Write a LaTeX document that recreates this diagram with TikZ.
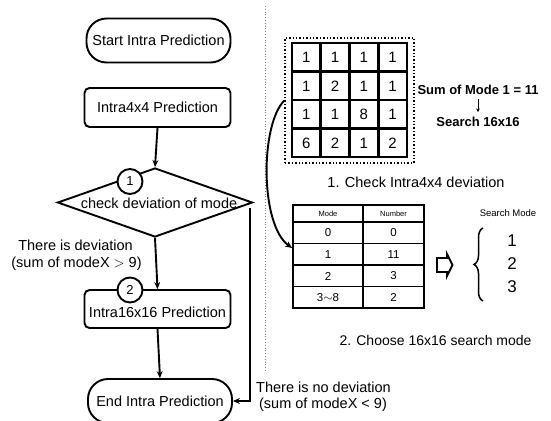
\documentclass[tikz,border=0pt]{standalone}
\usepackage{fontspec}
\setmainfont{Liberation Sans}
\usetikzlibrary{shapes.geometric,arrows.meta,decorations.pathreplacing,calc}
\begin{document}
\begin{tikzpicture}[x=1pt,y=-1pt,
  txt/.style={inner sep=0pt,font=\fontsize{14.5}{16}\selectfont},
  box/.style={draw,line width=1.9pt,rounded corners=5pt,minimum width=146pt,minimum height=39pt,inner sep=0pt,font=\fontsize{14.5}{16}\selectfont},
  term/.style={draw,line width=1.9pt,rounded corners=20pt,minimum width=144pt,minimum height=44pt,inner sep=0pt,font=\fontsize{14.5}{16}\selectfont},
  decision/.style={draw,diamond,line width=1.9pt,minimum width=195pt,minimum height=69pt,inner sep=0pt},
  num/.style={draw,circle,fill=white,line width=1.9pt,minimum size=25pt,inner sep=0pt,font=\fontsize{13}{14}\selectfont},
  arr/.style={line width=1.9pt,-{Stealth[length=7pt,width=6pt]}},
  cellnum/.style={inner sep=0pt,font=\fontsize{15}{16}\selectfont},
  gridline/.style={line width=2.6pt},
  tabline/.style={line width=1.2pt},
  tabtxt/.style={inner sep=0pt,font=\fontsize{11.5}{13}\selectfont},
  tabhead/.style={inner sep=0pt,font=\fontsize{7.5}{9}\selectfont},
  boldtxt/.style={inner sep=0pt,font=\fontsize{13}{15}\selectfont\bfseries},
]
\useasboundingbox (0,0) rectangle (551,420);

% separator
\draw[dotted,line width=0.8pt,gray] (265,6) -- (265,372);

% left flowchart
\node[term] (start) at (158.5,40.5) {Start Intra Prediction};
\node[box] (i4) at (157.5,107.5) {Intra4x4 Prediction};
\node[decision] (dec) at (155,202.5) {};
\node[txt] (dect) at (159,203) {check deviation of mode};
\node[num] (c1) at (130,181.5) {1};
\node[box,minimum height=38pt] (i16) at (157.5,309) {};
\node[txt] (i16t) at (157.5,312) {Intra16x16 Prediction};
\node[num] (c2) at (130,290) {2};
\node[term] (end) at (160,401) {End Intra Prediction};

\draw[arr] (i4.south) -- (dec.north);
\draw[arr] (dec.south) -- (i16.north);
\draw[arr] (i16.south) -- (end.north);
\coordinate (nd) at (250,208);
\draw[arr] (nd) |- (end.east);

\node[txt] (dev1) at (75.5,245) {There is deviation};
\node[txt] (dev2) at (76.5,263.5) {(sum of modeX $>$ 9)};
\node[txt] (nodev1) at (323.5,387) {There is no deviation};
\node[txt] (nodev2) at (323,405) {(sum of modeX < 9)};

% 4x4 grid
\node[draw,dotted,line width=1.4pt,minimum width=129pt,minimum height=125pt,inner sep=0pt] (frame) at (349.5,100.5) {};
\draw[gridline] (292,43) rectangle (407,157);
\foreach \i in {1,2,3} {
  \draw[gridline] ({292+28.75*\i},43) -- ({292+28.75*\i},157);
  \draw[gridline] (292,{43+28.5*\i}) -- (407,{43+28.5*\i});
}
\foreach \r/\row in {1/{1,1,1,1},2/{1,2,1,1},3/{1,1,8,1},4/{6,2,1,2}} {
  \foreach \v [count=\c] in \row {
    \node[cellnum] (g\r\c) at ({292+28.75*(\c-0.5)},{43+28.5*(\r-0.5)+0.5}) {\v};
  }
}
\node[boldtxt] (sum) at (478,90) {Sum of Mode 1 = 11};
\node[boldtxt] (s16) at (478,122) {Search 16x16};
\draw[line width=0.9pt,-{Stealth[length=3.5pt,width=3.5pt]}] ($(sum.south)+(0,4)$) -- ($(s16.north)+(0,-5)$);
\node[txt] (step1) at (416,182) {1. Check Intra4x4 deviation};

% table
\node[draw,line width=1.8pt,minimum width=131pt,minimum height=103pt,inner sep=0pt] (tab) at (358.5,256.5) {};
\draw[tabline] (363,205) -- (363,308);
\foreach \y in {222,243.5,265,286.5} { \draw[tabline] (293,\y) -- (424,\y); }
\node[tabhead] (h1) at (328,213.5) {Mode};
\node[tabhead] (h2) at (393.5,213.5) {Number};
\foreach \a/\b/\y [count=\k] in {0/0/233,1/11/254.5,2/3/276,3$\sim$8/2/297.5} {
  \node[tabtxt] (ta\k) at (328,\y) {\a};
  \node[tabtxt] (tb\k) at (393.5,\y) {\b};
}
\draw[arr] (frame.west) .. controls (260,125) and (260,225) .. ([yshift=8.5pt]tab.west);

% hollow arrow
\draw[line width=1.9pt,line join=miter] (437,258) -- (447,258) -- (447,254) -- (452.5,265) -- (447,276) -- (447,272) -- (437,272) -- cycle;

% brace and search modes
\draw[line width=1.5pt,decorate,decoration={brace,amplitude=9pt}] (483,301) -- (483,228);
\node[inner sep=0pt,font=\fontsize{9.5}{11}\selectfont] (sm) at (508,213) {Search Mode};
\node[inner sep=0pt,font=\fontsize{17}{18}\selectfont] (m1) at (512,241) {1};
\node[inner sep=0pt,font=\fontsize{17}{18}\selectfont] (m2) at (512,264) {2};
\node[inner sep=0pt,font=\fontsize{17}{18}\selectfont] (m3) at (512,287) {3};
\node[txt,font=\fontsize{14}{16}\selectfont] (step2) at (435.5,340) {2. Choose 16x16 search mode};
\end{tikzpicture}
\end{document}
